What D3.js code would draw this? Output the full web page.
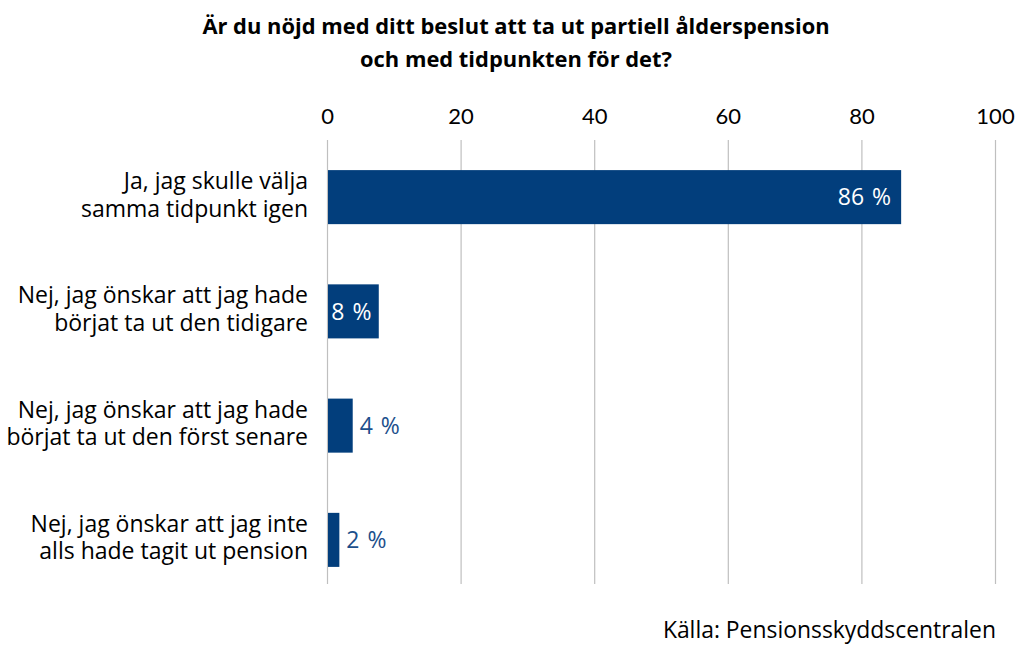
<!DOCTYPE html>
<html lang="sv">
<head>
    <meta charset="UTF-8">
    <title>Partiell ålderspension</title>
    <script src="https://d3js.org/d3.v7.min.js"></script>
    <style>
        body { margin: 0; background: #fff; }
        svg text { font-family: "Open Sans", Lato, sans-serif; }
        .grid line { stroke: #bfbfbf; stroke-width: 1.2; }
        .grid .domain { display: none; }
    </style>
</head>
<body>
    <svg id="chart"></svg>
    <script>
        // data
        var categories = [
            "Ja, jag skulle välja\nsamma tidpunkt igen",
            "Nej, jag önskar att jag hade\nbörjat ta ut den tidigare",
            "Nej, jag önskar att jag hade\nbörjat ta ut den först senare",
            "Nej, jag önskar att jag inte\nalls hade tagit ut pension"
        ];
        var values = [85.8, 7.6, 3.7, 1.7];
        var valueLabels = ["86 %", "8 %", "4 %", "2 %"];
        var xTicks = [0, 20, 40, 60, 80, 100];
        var titleLines = ["Är du nöjd med ditt beslut att ta ut partiell ålderspension", "och med tidpunkten för det?"];
        var source = "Källa: Pensionsskyddscentralen";

        var W = 1024, H = 657;
        var barColor = "#023e7c";

        var svg = d3.select("#chart").attr("width", W).attr("height", H);

        var x = d3.scaleLinear().domain([0, 100]).range([327, 995]);
        var y = d3.scaleBand().domain(categories).range([140, 597])
            .paddingInner(0.527).paddingOuter(0.2635);

        // gridlines + top axis
        var axis = svg.append("g")
            .attr("class", "grid")
            .attr("transform", "translate(0,140)")
            .call(d3.axisTop(x).tickValues(xTicks).tickSize(-444).tickPadding(16));
        axis.selectAll("text")
            .attr("font-size", 22)
            .attr("fill", "#000")
            .style("font-family", "Lato, sans-serif");

        // bars
        svg.selectAll("rect.bar")
            .data(values)
            .enter().append("rect")
            .attr("class", "bar")
            .attr("x", x(0) + 1)
            .attr("y", (d, i) => y(categories[i]))
            .attr("width", d => x(d) - x(0))
            .attr("height", y.bandwidth())
            .attr("fill", barColor);

        // value labels: inside the bar when there is room, otherwise just after it
        svg.selectAll("text.val")
            .data(values)
            .enter().append("text")
            .attr("class", "val")
            .attr("y", (d, i) => y(categories[i]) + y.bandwidth() / 2)
            .attr("dy", "0.36em")
            .attr("font-size", 23)
            .attr("word-spacing", 2)
            .text((d, i) => valueLabels[i])
            .each(function(d) {
                var w = this.getComputedTextLength();
                var barW = x(d) - x(0);
                var inside = barW > w + 4;
                var pad = Math.min(9, (barW - w) / 2 + 1);
                d3.select(this)
                    .attr("x", inside ? x(d) - pad : x(d) + 8)
                    .attr("text-anchor", inside ? "end" : "start")
                    .attr("fill", inside ? "#fff" : "#1c4f8c");
            });

        // category labels
        categories.forEach(function(c, i) {
            var lines = c.split("\n");
            var cy = y(c) + y.bandwidth() / 2;
            var t = svg.append("text")
                .attr("text-anchor", "end")
                .attr("font-size", 23)
                .attr("fill", "#000");
            lines.forEach(function(l, j) {
                t.append("tspan")
                    .attr("x", 308)
                    .attr("y", cy - 8 + j * 27.5)
                    .text(l);
            });
        });

        // title
        svg.append("text")
            .attr("text-anchor", "middle")
            .attr("font-size", 21.9)
            .attr("font-weight", "bold")
            .attr("fill", "#000")
            .selectAll("tspan")
            .data(titleLines)
            .enter().append("tspan")
            .attr("x", 516)
            .attr("y", (d, i) => 34 + i * 33)
            .text(d => d);

        // source
        svg.append("text")
            .attr("x", 996)
            .attr("y", 638)
            .attr("text-anchor", "end")
            .attr("font-size", 22.9)
            .attr("fill", "#000")
            .text(source);
    </script>
</body>
</html>
